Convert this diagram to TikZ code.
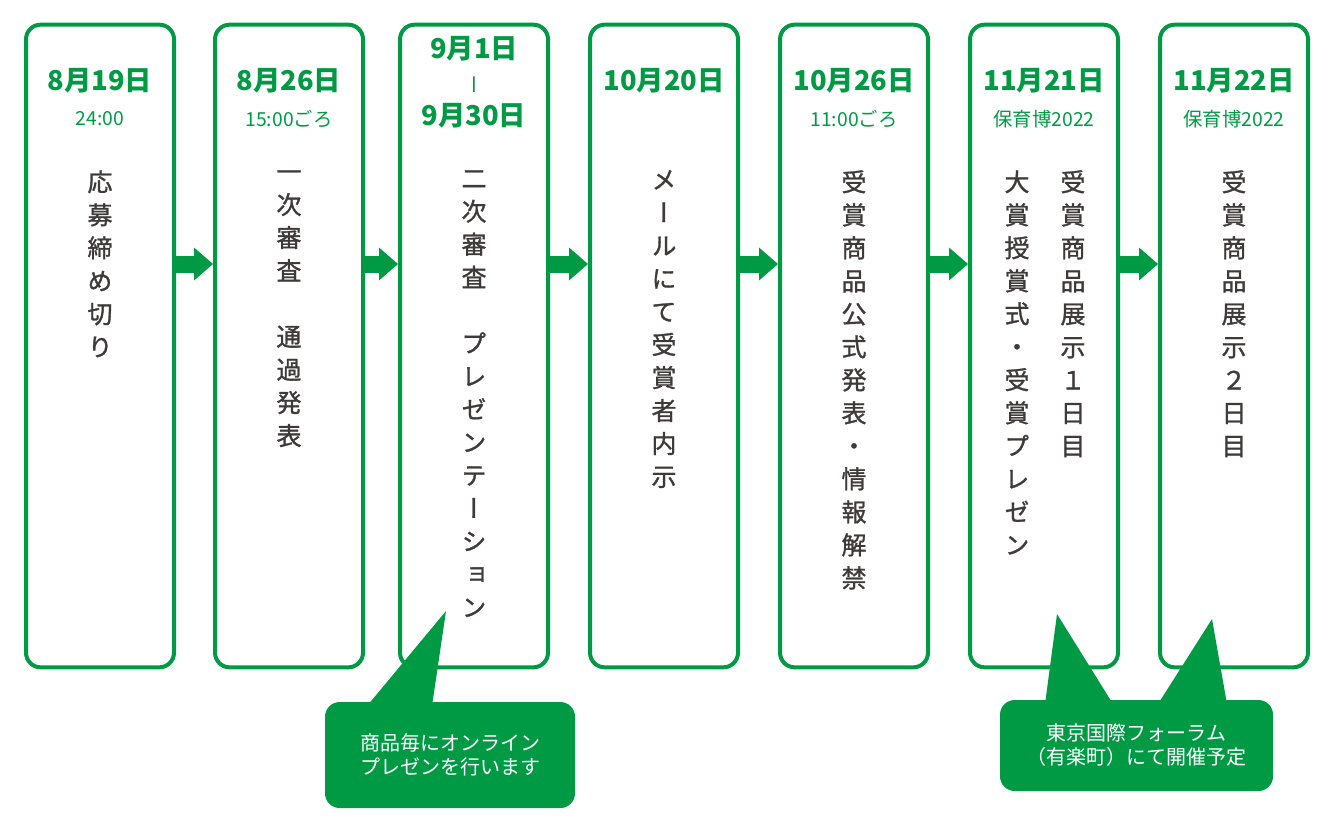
\documentclass[tikz,border=0pt]{standalone}
\usepackage{fontspec}
\setmainfont{Noto Sans CJK JP}
\newfontfamily\tate[RawFeature=+vert,FakeBold=1.2]{Noto Sans CJK JP}
\newfontfamily\tatehoso[RawFeature=+vert]{Noto Sans CJK JP}
\usetikzlibrary{arrows.meta,calc}
\definecolor{midori}{HTML}{009A44}
\definecolor{sumi}{HTML}{3E3A39}
\newcommand{\bw}{111pt}
\newcommand{\bh}{482pt}
\tikzset{
  waku/.style={draw=midori,line width=3pt,rounded corners=11pt,minimum width=\bw,minimum height=\bh,inner sep=0},
  hiduke/.style={text=midori,font=\bfseries\fontsize{20.5}{24}\selectfont,inner sep=0},
  jikan/.style={text=midori,font=\fontsize{14.5}{17}\selectfont,inner sep=0},
  tatego/.style={text=sumi,font=\tate\fontsize{18.75}{24.75}\selectfont,align=center,anchor=north,inner sep=0},
  yaji/.style={midori,line width=12.75pt,-{Triangle[length=14.25pt 0 0,width=24.75pt 0 0,line width=0pt]}},
  fukidashi/.style={fill=midori,text=white,rounded corners=11pt,font=\fontsize{15}{18}\selectfont,align=center,inner sep=0}
}

\begin{document}
\begin{tikzpicture}[x=0.75pt,y=-0.75pt]
\useasboundingbox (0,0) rectangle (1326,822);
\coordinate (ya) at (0,264);
% waku
\node[waku] (b1) at (100,346) {};
\node[waku] (b2) at (289,346) {};
\node[waku] (b3) at (474,346) {};
\node[waku] (b4) at (664,346) {};
\node[waku] (b5) at (854,346) {};
\node[waku] (b6) at (1044,346) {};
\node[waku] (b7) at (1234,346) {};
% yajirushi
\draw[yaji] (b1.east |- ya) -- (b2.west |- ya);
\draw[yaji] (b2.east |- ya) -- (b3.west |- ya);
\draw[yaji] (b3.east |- ya) -- (b4.west |- ya);
\draw[yaji] (b4.east |- ya) -- (b5.west |- ya);
\draw[yaji] (b5.east |- ya) -- (b6.west |- ya);
\draw[yaji] (b6.east |- ya) -- (b7.west |- ya);
% hiduke
\node[hiduke] (d1) at (100,81) {8月19日};
\node[jikan] (t1) at (100,119) {24:00};
\node[hiduke] (d2) at (289,81) {8月26日};
\node[jikan] (t2) at (289,119) {15:00ごろ};
\node[hiduke] (d3) at (474,49) {9月1日};
\node[text=midori,font=\tatehoso\fontsize{15}{16}\selectfont,inner sep=0] (s3) at (474,85) {ー};
\node[hiduke] (e3) at (474,116) {9月30日};
\node[hiduke] (d4) at (664,81) {10月20日};
\node[hiduke] (d5) at (854,81) {10月26日};
\node[jikan] (t5) at (854,119) {11:00ごろ};
\node[hiduke] (d6) at (1044,81) {11月21日};
\node[jikan] (t6) at (1044,119) {保育博2022};
\node[hiduke] (d7) at (1234,81) {11月22日};
\node[jikan] (t7) at (1234,119) {保育博2022};
% tategaki
\node[tatego] (v1) at (100,170) {応\\募\\締\\め\\切\\り};
\node[tatego] (v2) at (289,170) {一\\次\\審\\査\\\mbox{}\\通\\過\\発\\表};
\node[tatego] (v3) at (474,170) {二\\次\\審\\査\\\mbox{}\\プ\\レ\\ゼ\\ン\\テ\\ー\\シ\\ョ\\ン};
\node[tatego] (v4) at (664,170) {メ\\ー\\ル\\に\\て\\受\\賞\\者\\内\\示};
\node[tatego] (v5) at (854,170) {受\\賞\\商\\品\\公\\式\\発\\表\\・\\情\\報\\解\\禁};
\node[tatego] (v6) at (1073,170) {受\\賞\\商\\品\\展\\示\\１\\日\\目};
\node[tatego] (w6) at (1017,170) {大\\賞\\授\\賞\\式\\・\\受\\賞\\プ\\レ\\ゼ\\ン};
\node[tatego] (v7) at (1234,170) {受\\賞\\商\\品\\展\\示\\２\\日\\目};
% fukidashi
\node[fukidashi,minimum width=187.5pt,minimum height=79.5pt] (c1) at (450,755) {商品毎にオンライン\\プレゼンを行います};
\coordinate (p1) at (446,611);
\fill[midori] (367,706) -- (p1) -- (432,706) -- cycle;
\node[fukidashi,minimum width=204.75pt,minimum height=68.25pt] (c2) at (1136.5,745.5) {東京国際フォーラム\\（有楽町）にて開催予定};
\coordinate (p2) at (1057,614);
\coordinate (p3) at (1212,619);
\fill[midori] (1045,704) -- (p2) -- (1113,704) -- cycle;
\fill[midori] (1158,704) -- (p3) -- (1227,704) -- cycle;
\end{tikzpicture}
\end{document}
